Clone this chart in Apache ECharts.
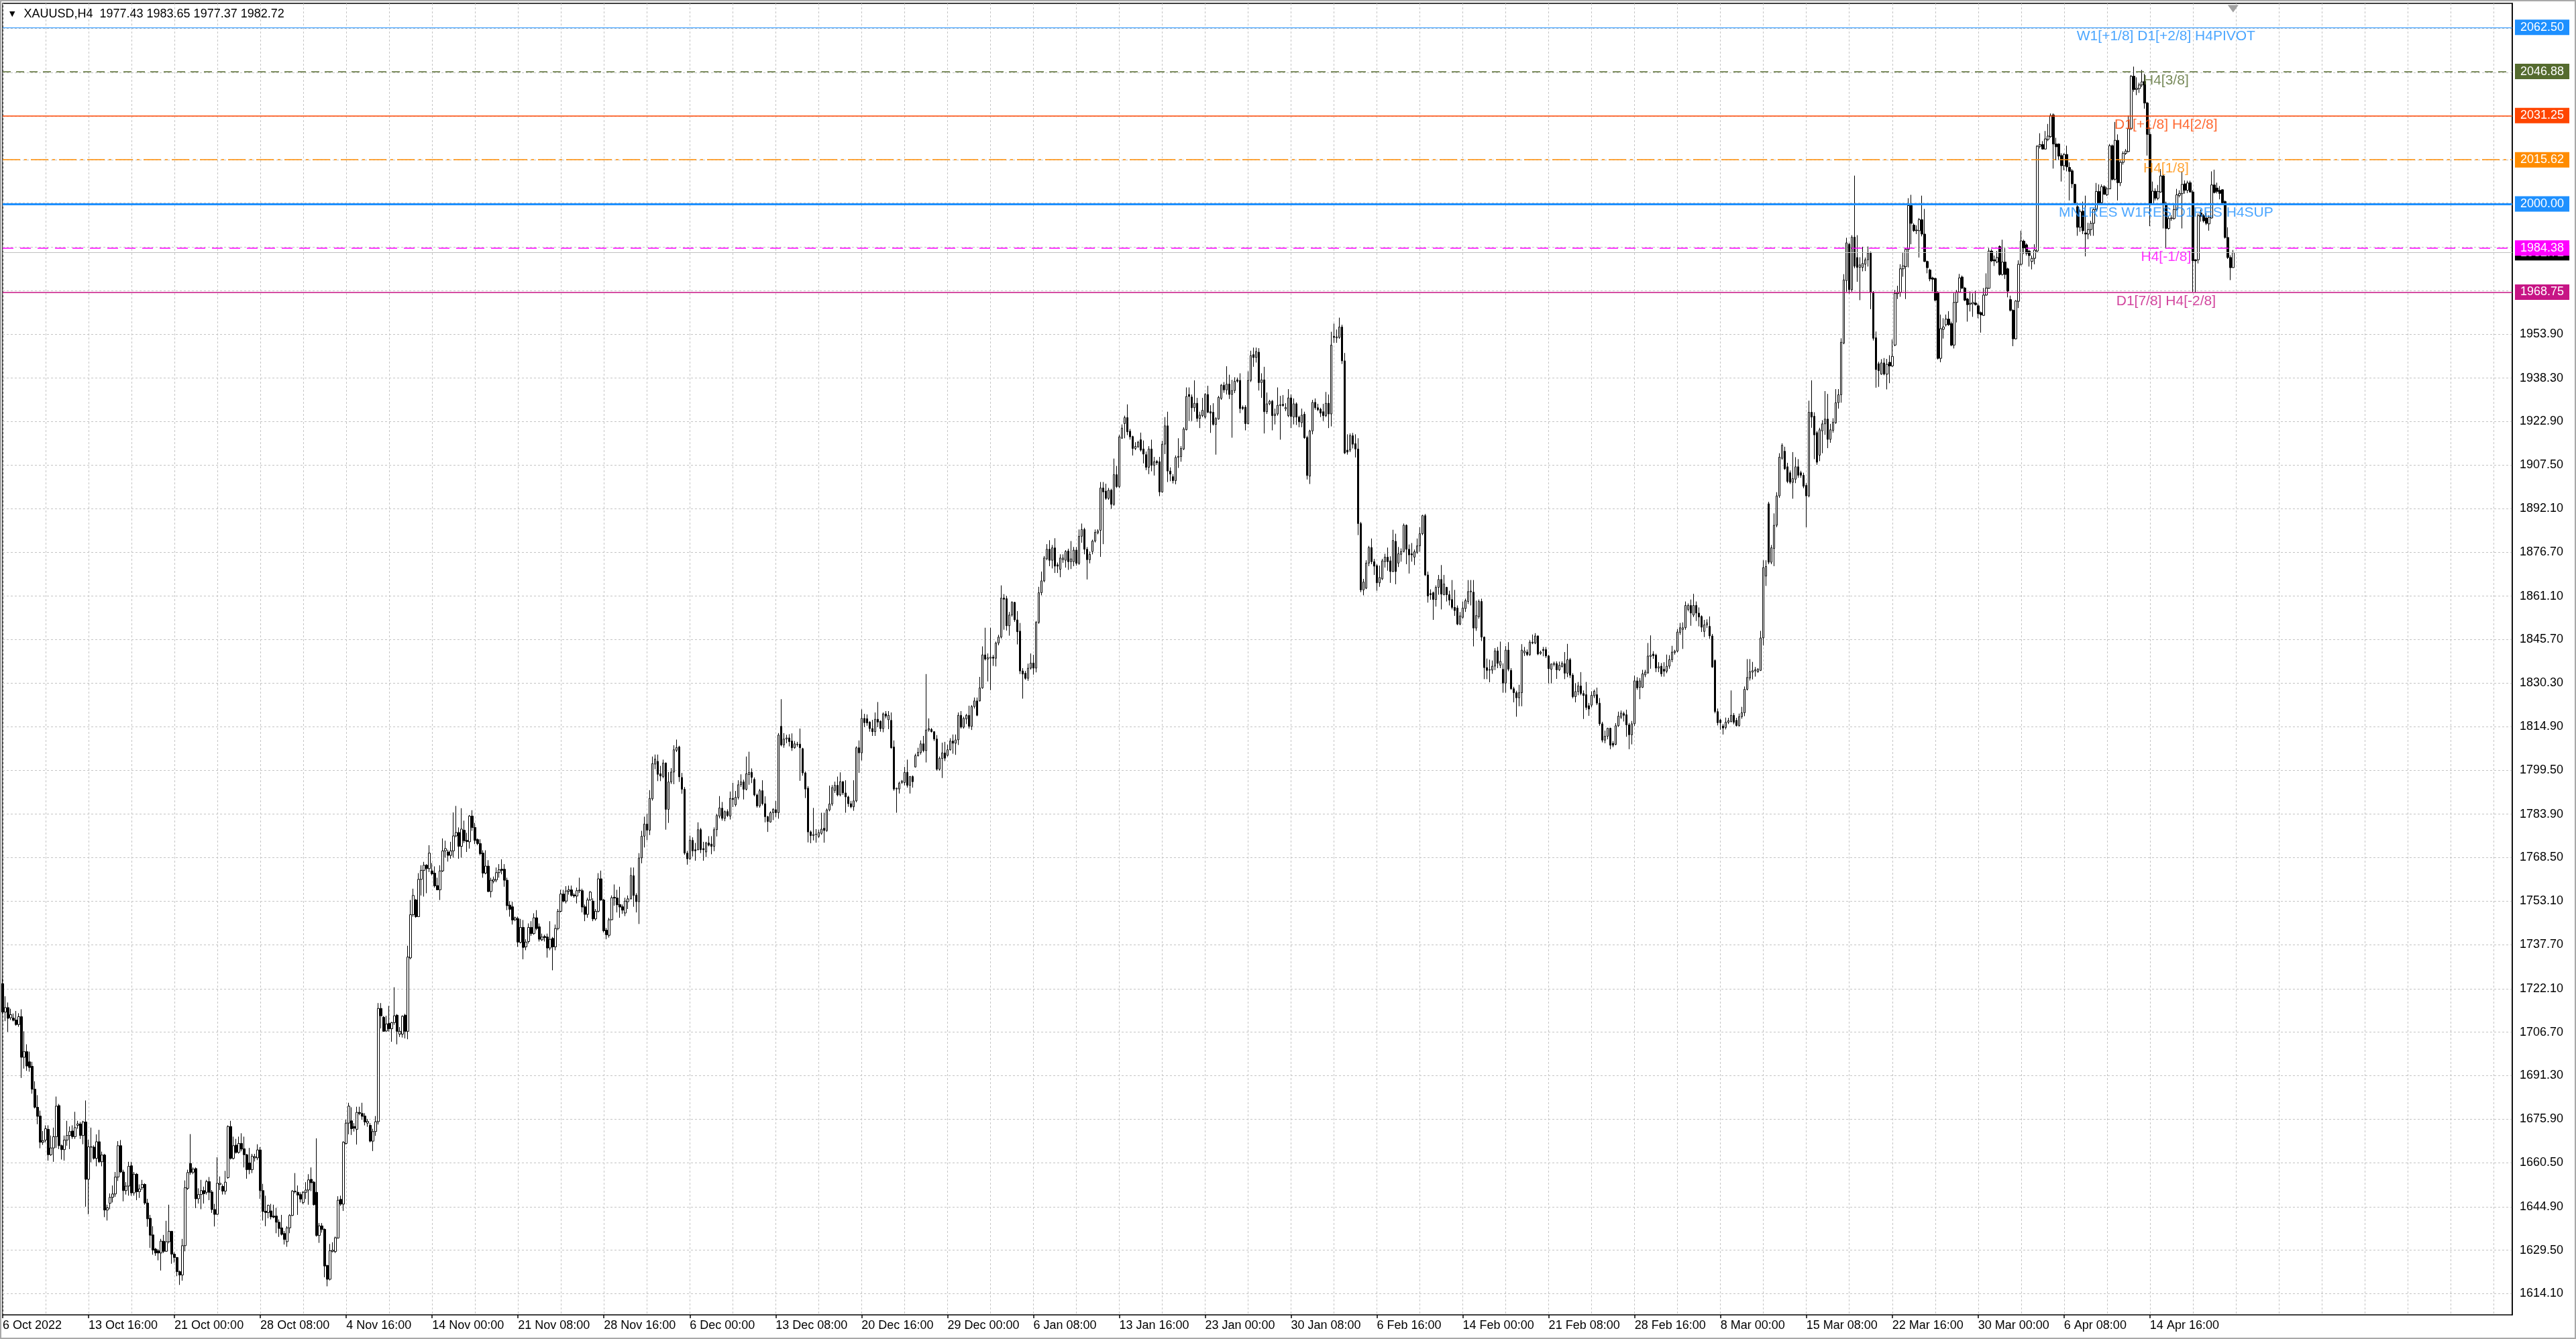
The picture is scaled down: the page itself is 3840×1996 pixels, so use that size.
<!DOCTYPE html>
<html><head><meta charset="utf-8">
<script src="https://cdn.jsdelivr.net/npm/echarts@6/dist/echarts.min.js"></script>
<style>html,body{margin:0;padding:0;background:#fff;}#c{width:3840px;height:1996px;}</style>
</head><body><div id="c"></div>
<script>
const symbolName = 'XAUUSD,H4';
const xTickLabels = ['6 Oct 2022','13 Oct 16:00','21 Oct 00:00','28 Oct 08:00','4 Nov 16:00','14 Nov 00:00','21 Nov 08:00','28 Nov 16:00','6 Dec 00:00','13 Dec 08:00','20 Dec 16:00','29 Dec 00:00','6 Jan 08:00','13 Jan 16:00','23 Jan 00:00','30 Jan 08:00','6 Feb 16:00','14 Feb 00:00','21 Feb 08:00','28 Feb 16:00','8 Mar 00:00','15 Mar 08:00','22 Mar 16:00','30 Mar 00:00','6 Apr 08:00','14 Apr 16:00'];
const yTicks = [1614.10,1629.50,1644.90,1660.50,1675.90,1691.30,1706.70,1722.10,1737.70,1753.10,1768.50,1783.90,1799.50,1814.90,1830.30,1845.70,1861.10,1876.70,1892.10,1907.50,1922.90,1938.30,1953.90,1969.30,1984.70,2000.30,2015.70,2031.10,2046.50,2062.10];
const levelValues = [2062.50,2046.88,2031.25,2015.62,2000.00,1984.38,1968.75];
const levelNames = ['W1[+1/8] D1[+2/8] H4PIVOT','H4[3/8]','D1[+1/8] H4[2/8]','H4[1/8]','MN1RES W1RES D1RES H4SUP','H4[-1/8]','D1[7/8] H4[-2/8]'];
const bidPrice = 1982.72;
// OHLC rows: [open, high, low, close]
const ohlc = [
[1723.9,1725.6,1713.0,1713.8],[1713.8,1719.4,1710.6,1715.4],[1715.4,1717.2,1706.8,1711.6],[1711.8,1715.0,1711.0,1712.9],[1711.7,1713.3,1710.5,1710.9],
[1711.0,1714.2,1709.0,1709.4],[1709.4,1713.4,1708.6,1712.2],[1712.2,1714.8,1690.5,1697.8],[1697.8,1707.0,1693.8,1699.8],[1699.8,1702.4,1693.0,1694.7],
[1696.2,1699.8,1692.7,1694.2],[1694.6,1696.2,1684.9,1686.5],[1686.5,1689.3,1679.7,1680.1],[1680.1,1684.4,1674.1,1676.9],[1677.0,1678.9,1665.6,1667.7],
[1667.7,1671.7,1666.8,1668.3],[1668.5,1673.7,1667.7,1672.5],[1672.3,1673.7,1661.2,1663.3],[1663.3,1670.1,1662.9,1665.7],[1665.7,1672.9,1660.8,1669.7],
[1669.7,1683.9,1665.7,1680.5],[1680.7,1681.3,1665.3,1666.5],[1666.5,1666.9,1661.6,1665.1],[1665.1,1670.1,1661.2,1668.5],[1668.5,1675.3,1666.5,1670.1],
[1670.1,1673.3,1665.3,1671.5],[1671.7,1673.7,1668.9,1669.7],[1669.7,1678.5,1668.9,1672.9],[1673.7,1675.3,1672.5,1674.2],[1674.2,1674.9,1668.9,1670.1],
[1670.1,1675.3,1667.0,1674.9],[1674.9,1682.5,1644.9,1654.6],[1654.6,1668.6,1642.2,1666.1],[1666.0,1672.9,1660.6,1666.1],[1666.0,1666.6,1661.6,1662.0],
[1662.0,1670.5,1659.2,1667.9],[1667.9,1672.1,1660.4,1660.8],[1660.8,1664.4,1659.2,1663.2],[1663.2,1663.6,1641.2,1643.7],[1643.7,1645.6,1640.0,1644.5],
[1646.1,1649.6,1644.0,1648.2],[1648.2,1652.4,1646.4,1649.4],[1649.4,1657.2,1648.4,1655.4],[1655.4,1668.1,1654.0,1666.5],[1666.5,1668.5,1656.8,1657.2],
[1657.2,1658.0,1646.8,1650.6],[1650.6,1653.6,1649.2,1652.2],[1652.2,1660.8,1648.8,1659.2],[1659.4,1660.8,1648.8,1649.8],[1649.8,1657.2,1648.8,1656.4],
[1656.4,1656.8,1647.2,1650.2],[1650.2,1652.8,1648.0,1651.2],[1651.6,1654.4,1650.8,1652.8],[1652.8,1653.2,1645.6,1646.2],[1646.2,1647.7,1637.8,1640.6],
[1640.8,1642.0,1630.3,1634.8],[1634.9,1638.0,1627.9,1629.5],[1629.9,1630.3,1627.5,1628.5],[1629.3,1629.9,1625.9,1628.5],[1628.5,1633.5,1622.3,1632.7],
[1632.7,1634.9,1628.5,1629.1],[1629.1,1639.9,1628.9,1632.5],[1632.5,1645.6,1631.9,1636.2],[1636.2,1636.3,1624.7,1628.1],[1628.1,1628.7,1625.1,1626.9],
[1626.9,1627.1,1620.3,1621.9],[1621.9,1622.3,1617.2,1620.7],[1620.7,1633.5,1618.7,1631.1],[1631.1,1654.2,1629.1,1651.6],[1651.4,1658.0,1650.8,1657.0],
[1660.2,1670.6,1656.2,1657.0],[1657.1,1658.8,1656.4,1658.2],[1658.4,1658.8,1644.4,1647.7],[1647.7,1651.4,1646.0,1649.2],[1649.2,1654.4,1644.0,1650.6],
[1650.6,1652.0,1646.0,1649.5],[1650.0,1654.4,1649.2,1653.8],[1653.8,1655.4,1647.2,1650.0],[1650.1,1650.8,1642.7,1643.9],[1643.9,1645.9,1637.9,1642.2],
[1642.2,1662.4,1642.0,1653.2],[1652.8,1655.6,1650.8,1653.2],[1652.1,1652.8,1649.2,1650.4],[1650.4,1657.6,1649.2,1653.6],[1655.2,1673.7,1654.8,1673.3],
[1673.3,1675.3,1661.6,1662.0],[1662.0,1669.7,1661.6,1666.5],[1666.7,1668.9,1663.7,1664.1],[1664.1,1669.7,1663.7,1667.3],[1667.3,1670.9,1664.5,1665.3],
[1665.4,1669.7,1658.8,1663.3],[1663.3,1663.6,1654.8,1658.0],[1660.4,1665.7,1656.4,1658.0],[1658.0,1663.6,1656.8,1662.8],[1662.2,1663.6,1660.9,1662.6],
[1662.2,1667.0,1661.4,1665.0],[1665.0,1666.0,1647.7,1650.6],[1650.6,1653.0,1640.0,1643.2],[1643.3,1648.8,1638.0,1642.8],[1642.8,1645.6,1640.8,1645.4],
[1643.4,1645.9,1640.4,1641.3],[1641.6,1645.6,1640.8,1641.2],[1641.6,1644.5,1635.5,1639.4],[1639.4,1640.4,1634.2,1637.2],[1637.4,1642.0,1634.7,1635.1],
[1635.4,1636.3,1631.5,1633.3],[1632.5,1638.0,1630.7,1637.4],[1637.4,1642.2,1635.5,1641.8],[1641.8,1650.8,1641.6,1650.4],[1650.2,1656.8,1649.6,1650.4],
[1650.0,1652.4,1642.0,1649.0],[1649.2,1650.0,1646.4,1647.6],[1646.4,1650.4,1645.8,1650.0],[1650.0,1653.6,1647.6,1650.8],[1650.8,1656.4,1645.6,1654.4],
[1654.6,1658.8,1650.4,1653.4],[1653.6,1654.0,1645.3,1645.6],[1650.0,1669.1,1634.3,1634.7],[1634.7,1639.1,1632.1,1638.1],[1638.1,1639.1,1635.7,1636.8],
[1636.9,1637.2,1619.9,1623.9],[1624.1,1624.3,1616.7,1619.2],[1619.2,1631.7,1618.8,1629.3],[1629.1,1632.3,1628.7,1629.5],[1629.0,1634.3,1628.5,1633.9],
[1633.8,1648.6,1633.6,1647.2],[1647.5,1648.8,1645.2,1645.8],[1645.8,1668.1,1643.4,1667.7],[1667.3,1675.7,1666.9,1674.5],[1674.5,1681.7,1670.5,1680.5],
[1675.3,1680.1,1670.3,1672.5],[1673.3,1674.5,1671.5,1672.7],[1672.3,1680.3,1666.9,1678.3],[1678.3,1680.3,1677.3,1677.9],[1677.9,1681.7,1675.7,1676.9],
[1677.0,1678.0,1673.7,1674.9],[1674.5,1676.0,1673.2,1675.1],[1673.7,1674.5,1667.7,1668.1],[1668.1,1672.5,1664.6,1671.5],[1671.5,1677.0,1670.0,1675.0],
// 140
[1675.0,1717.0,1674.0,1715.1],[1715.1,1717.0,1708.0,1712.5],[1712.0,1712.4,1706.9,1707.0],[1707.1,1712.5,1706.9,1709.6],[1709.8,1716.0,1706.9,1707.9],
[1707.9,1710.3,1703.3,1710.1],[1710.1,1722.6,1709.3,1712.5],[1712.7,1713.1,1702.4,1707.0],[1706.0,1708.5,1705.0,1707.0],[1706.0,1712.7,1704.8,1712.3],
[1712.7,1713.2,1704.5,1707.0],[1707.0,1737.3,1704.2,1733.3],[1733.0,1753.5,1732.5,1748.3],[1748.3,1757.5,1747.6,1755.1],[1753.5,1753.9,1747.2,1747.6],
[1747.6,1763.0,1747.5,1760.8],[1760.8,1765.8,1755.1,1764.0],[1764.0,1767.0,1754.7,1765.8],[1765.8,1766.2,1755.9,1764.6],[1764.6,1772.9,1763.4,1770.1],
[1763.8,1766.6,1762.2,1762.8],[1763.0,1765.4,1757.9,1758.5],[1758.6,1761.4,1757.1,1757.1],[1757.1,1765.8,1753.5,1763.8],[1763.8,1775.3,1763.4,1770.9],
[1770.9,1774.5,1768.5,1771.7],[1770.5,1771.3,1767.1,1769.3],[1769.3,1774.1,1768.1,1770.9],[1770.9,1784.5,1768.5,1776.2],[1776.2,1786.8,1775.7,1777.4],
[1777.4,1779.2,1768.1,1772.5],[1772.5,1786.0,1768.5,1778.6],[1778.2,1781.6,1773.7,1774.5],[1774.6,1777.3,1770.5,1774.2],[1774.1,1783.6,1771.7,1783.2],
[1783.2,1785.3,1778.0,1779.2],[1779.2,1780.8,1773.3,1774.6],[1774.9,1775.3,1772.9,1773.5],[1773.5,1775.0,1769.3,1769.9],[1770.1,1771.1,1761.4,1763.0],
[1763.0,1771.1,1762.6,1765.5],[1765.5,1767.6,1756.3,1756.5],[1756.5,1761.4,1754.4,1760.5],[1760.2,1761.8,1759.4,1760.8],[1760.6,1765.0,1759.8,1763.2],
[1763.2,1766.2,1761.4,1764.2],[1764.4,1767.9,1762.6,1764.0],[1764.4,1766.2,1758.2,1760.5],[1760.5,1761.4,1749.9,1751.5],[1751.7,1753.1,1747.6,1750.2],
[1751.1,1752.9,1744.8,1746.4],[1746.5,1747.6,1746.0,1747.2],[1746.9,1747.6,1736.9,1738.6],[1738.5,1746.8,1738.1,1743.8],[1743.8,1746.4,1732.5,1736.7],
[1736.9,1739.6,1735.7,1738.6],[1738.8,1745.2,1738.1,1743.8],[1743.8,1746.0,1740.8,1741.6],[1741.6,1748.8,1741.2,1747.2],[1747.2,1749.9,1742.8,1743.4],
// 200
[1744.0,1745.2,1738.8,1739.6],[1739.4,1741.6,1739.0,1740.4],[1740.6,1741.2,1738.8,1740.2],[1740.4,1741.6,1733.1,1736.5],[1736.5,1746.0,1735.7,1739.6],
[1739.9,1740.4,1728.6,1736.9],[1736.9,1744.8,1735.7,1743.4],[1743.4,1750.3,1742.8,1749.5],[1749.5,1757.1,1749.1,1755.6],[1755.6,1757.1,1752.7,1753.1],
[1753.1,1758.4,1752.3,1756.7],[1756.6,1758.6,1755.4,1757.1],[1757.1,1758.6,1754.7,1755.1],[1755.3,1755.9,1754.3,1754.9],[1754.9,1757.9,1752.3,1756.8],
[1756.8,1761.4,1756.0,1757.0],[1756.8,1757.5,1749.1,1751.0],[1751.1,1751.9,1746.0,1748.4],[1748.4,1754.3,1747.2,1753.5],[1753.5,1756.7,1753.3,1756.3],
[1753.1,1754.1,1746.0,1746.8],[1746.8,1750.3,1746.2,1749.5],[1749.5,1763.0,1749.1,1761.0],[1761.0,1763.9,1753.1,1753.5],[1753.5,1753.9,1742.0,1742.6],
[1742.8,1743.6,1739.6,1741.2],[1741.0,1747.2,1740.2,1746.5],[1746.5,1755.1,1746.3,1754.3],[1754.5,1759.0,1751.5,1754.2],[1754.2,1757.1,1749.1,1751.8],
[1751.9,1758.2,1747.2,1751.0],[1751.1,1751.9,1748.6,1749.9],[1748.9,1754.3,1747.8,1753.1],[1752.9,1755.1,1750.3,1753.9],[1753.9,1765.0,1753.7,1762.2],
[1762.1,1765.0,1751.1,1755.1],[1755.2,1755.9,1749.1,1752.9],[1752.9,1770.1,1745.0,1768.4],[1768.4,1778.0,1766.5,1776.1],[1776.1,1783.0,1772.1,1780.4],
[1780.4,1784.0,1774.7,1778.2],[1778.2,1792.4,1776.5,1789.5],[1789.3,1804.3,1788.7,1801.8],[1801.6,1805.0,1799.8,1803.4],[1802.6,1805.0,1795.6,1798.0],
[1798.2,1801.0,1795.6,1797.4],[1797.2,1803.2,1796.6,1802.0],[1802.0,1802.2,1778.4,1785.6],[1785.6,1798.8,1780.8,1795.3],[1795.3,1800.2,1794.6,1798.8],
[1798.8,1808.3,1794.5,1806.7],[1806.5,1810.3,1805.9,1807.5],[1807.7,1808.1,1795.3,1797.1],[1796.9,1798.5,1791.1,1792.7],[1792.7,1793.5,1769.5,1770.1],
[1770.1,1770.9,1766.0,1768.1],[1768.1,1776.3,1767.7,1774.7],[1774.6,1775.7,1768.9,1770.9],[1771.3,1773.7,1767.4,1770.9],[1771.3,1781.0,1771.1,1778.4],
// 260
[1778.4,1779.0,1770.1,1771.3],[1771.7,1774.1,1767.4,1771.3],[1770.5,1774.1,1768.7,1773.7],[1773.7,1776.1,1772.5,1772.9],[1773.3,1776.1,1769.7,1772.5],
[1772.5,1779.2,1770.8,1778.4],[1778.4,1784.0,1776.0,1783.4],[1783.2,1790.3,1782.4,1786.1],[1786.0,1788.2,1781.6,1782.4],[1782.4,1785.2,1781.4,1784.8],
[1784.8,1785.6,1782.9,1783.4],[1783.2,1791.9,1782.0,1789.5],[1789.5,1795.0,1786.4,1789.1],[1787.2,1792.1,1786.6,1789.9],[1789.8,1795.9,1789.1,1794.3],
[1794.3,1798.0,1793.5,1795.3],[1795.3,1796.1,1789.1,1792.7],[1792.7,1804.3,1792.3,1798.2],[1797.9,1806.0,1794.3,1798.7],[1798.7,1800.1,1794.9,1796.9],
[1796.2,1796.9,1790.2,1790.7],[1790.7,1791.2,1786.2,1786.8],[1786.8,1792.8,1786.2,1792.2],[1792.2,1795.9,1787.0,1787.6],[1787.6,1790.2,1781.0,1783.0],
[1783.0,1783.3,1777.6,1781.3],[1781.1,1784.9,1780.9,1784.4],[1784.4,1786.0,1781.8,1785.6],[1785.5,1788.6,1782.9,1784.4],[1784.4,1812.6,1782.3,1811.9],
[1815.0,1824.6,1807.9,1808.4],[1808.4,1812.6,1807.4,1810.5],[1810.5,1812.0,1809.0,1810.9],[1810.9,1812.2,1807.9,1809.6],[1809.8,1812.5,1806.3,1807.4],
[1807.4,1809.8,1807.1,1808.8],[1808.5,1809.5,1807.8,1808.7],[1808.7,1814.2,1795.7,1807.4],[1807.1,1807.4,1797.5,1798.5],[1798.5,1799.0,1789.6,1792.8],
[1793.1,1793.8,1773.9,1777.6],[1777.6,1778.1,1773.6,1776.3],[1776.3,1786.1,1774.6,1776.7],[1776.7,1778.6,1773.8,1776.8],[1776.0,1778.4,1775.5,1777.4],
[1777.1,1784.4,1776.6,1778.6],[1778.9,1784.4,1773.8,1778.1],[1778.1,1785.9,1777.6,1785.4],[1785.4,1794.0,1784.9,1787.5],[1787.5,1794.2,1786.8,1793.3],
[1792.3,1795.4,1791.4,1794.1],[1794.1,1797.2,1790.2,1790.7],[1790.7,1798.7,1790.2,1795.4],[1795.4,1795.6,1790.7,1791.4],[1791.4,1795.9,1784.4,1790.0],
[1790.0,1790.4,1786.5,1787.6],[1787.6,1788.6,1786.0,1786.5],[1786.5,1795.9,1785.1,1788.6],[1788.6,1807.9,1788.1,1807.4],[1807.4,1810.0,1798.5,1805.6],
// 320
[1805.6,1821.0,1802.9,1817.8],[1817.8,1819.4,1814.7,1816.3],[1817.7,1819.2,1815.2,1816.2],[1816.5,1816.8,1813.1,1814.2],[1814.2,1817.3,1811.6,1813.1],
[1813.1,1819.9,1811.6,1817.5],[1817.5,1823.6,1814.7,1816.5],[1816.8,1817.1,1813.1,1814.2],[1814.2,1819.9,1812.9,1819.4],[1819.4,1820.4,1817.8,1818.6],
[1817.3,1820.4,1814.0,1818.9],[1817.1,1819.9,1807.1,1807.4],[1807.7,1810.0,1792.2,1792.8],[1792.8,1793.3,1784.4,1793.1],[1792.8,1795.4,1791.2,1794.9],
[1795.1,1796.0,1794.6,1795.6],[1795.1,1800.6,1794.1,1798.7],[1798.7,1803.2,1793.3,1794.1],[1794.1,1797.4,1791.2,1797.2],[1797.2,1797.6,1793.3,1795.4],
[1800.6,1805.3,1800.4,1804.6],[1804.6,1807.4,1804.3,1805.8],[1805.7,1810.0,1805.0,1808.8],[1808.8,1811.6,1805.8,1806.4],[1806.4,1833.5,1802.2,1813.7],
[1813.7,1817.8,1813.1,1814.2],[1813.9,1814.4,1812.8,1813.1],[1813.1,1813.3,1809.8,1810.5],[1810.5,1811.9,1799.3,1799.8],[1799.8,1804.3,1799.3,1803.7],
[1803.6,1809.2,1796.7,1805.6],[1805.6,1809.5,1802.7,1803.7],[1804.7,1808.5,1804.3,1806.7],[1806.7,1810.8,1806.4,1809.8],[1809.8,1812.1,1805.3,1809.0],
[1809.0,1812.1,1804.9,1810.2],[1810.2,1819.9,1808.4,1818.9],[1818.9,1820.4,1814.2,1814.7],[1814.7,1818.4,1814.2,1817.8],[1817.6,1819.4,1815.8,1818.9],
[1818.9,1822.3,1814.2,1815.0],[1815.0,1822.5,1813.7,1822.0],[1822.0,1825.2,1821.3,1824.0],[1824.0,1825.2,1818.6,1818.9],[1824.0,1832.5,1823.8,1828.6],
[1828.6,1843.3,1828.3,1840.3],[1840.3,1849.9,1838.3,1838.8],[1838.8,1840.8,1830.9,1839.3],[1839.1,1849.9,1827.8,1839.5],[1839.5,1840.3,1836.4,1839.1],
[1839.1,1845.0,1836.2,1844.5],[1844.5,1847.4,1843.7,1846.6],[1846.6,1864.9,1846.1,1860.4],[1860.4,1861.8,1849.2,1860.0],[1860.2,1861.2,1848.9,1850.6],
[1850.6,1855.5,1847.1,1854.4],[1854.4,1859.3,1853.8,1858.9],[1858.9,1859.1,1852.0,1852.7],[1852.7,1855.8,1844.0,1848.5],[1848.7,1851.6,1833.5,1834.6],
// 380
[1834.6,1835.6,1824.8,1833.5],[1833.8,1834.6,1831.5,1832.0],[1832.0,1837.2,1831.1,1835.6],[1835.6,1840.8,1835.1,1837.4],[1837.4,1840.3,1833.3,1835.6],
[1835.6,1852.3,1834.1,1851.8],[1851.8,1864.4,1851.3,1862.3],[1862.3,1869.8,1861.4,1866.5],[1866.5,1875.3,1866.0,1874.6],[1874.3,1879.5,1873.8,1877.7],
[1877.7,1880.9,1871.7,1873.8],[1873.8,1879.2,1870.9,1878.2],[1878.2,1881.6,1869.3,1871.7],[1872.2,1873.0,1869.3,1871.7],[1870.6,1875.9,1867.8,1874.6],
[1874.0,1875.9,1872.9,1874.6],[1873.8,1877.4,1871.2,1876.9],[1877.1,1877.9,1870.4,1873.3],[1873.3,1880.6,1870.7,1874.3],[1873.3,1878.5,1871.7,1877.4],
[1877.4,1878.5,1871.9,1872.7],[1872.7,1884.7,1872.2,1882.3],[1882.3,1886.8,1880.0,1884.7],[1884.7,1885.3,1875.9,1877.7],[1877.7,1878.5,1867.0,1874.0],
[1874.0,1876.9,1872.7,1875.9],[1876.9,1881.1,1875.9,1880.6],[1880.6,1884.7,1880.1,1883.7],[1883.5,1884.8,1883.0,1884.2],[1884.4,1901.5,1875.0,1899.4],
[1899.4,1901.5,1879.5,1898.0],[1898.3,1900.9,1895.2,1895.7],[1895.7,1899.4,1895.2,1898.6],[1898.6,1899.1,1892.0,1893.6],[1893.6,1909.8,1893.1,1904.1],
[1904.1,1907.2,1899.4,1899.9],[1899.9,1918.2,1899.4,1917.5],[1917.0,1921.9,1916.8,1920.6],[1922.2,1925.0,1917.0,1924.3],[1924.3,1929.0,1918.1,1919.3],
[1919.5,1920.3,1916.5,1917.5],[1917.6,1917.9,1910.9,1913.4],[1913.4,1915.6,1912.8,1914.1],[1913.9,1916.1,1913.7,1915.6],[1916.5,1919.0,1912.3,1912.8],
[1913.2,1916.2,1908.1,1911.4],[1911.2,1912.3,1905.7,1906.7],[1906.7,1914.2,1904.3,1913.2],[1913.2,1916.5,1905.3,1907.4],[1907.4,1910.4,1903.8,1908.7],
[1908.8,1909.3,1907.5,1908.3],[1908.7,1910.4,1896.5,1898.0],[1898.0,1916.1,1897.7,1914.9],[1914.9,1924.5,1911.4,1921.4],[1921.4,1926.4,1901.5,1905.4],
[1905.4,1906.7,1901.8,1904.3],[1903.4,1904.3,1901.0,1902.0],[1902.0,1910.9,1900.7,1910.2],[1910.2,1917.0,1906.5,1910.6],[1910.5,1914.2,1908.7,1913.4],
// 440
[1913.2,1920.9,1912.8,1920.3],[1920.0,1935.0,1919.8,1931.8],[1932.5,1935.0,1923.1,1931.8],[1931.6,1932.5,1923.1,1927.8],[1927.8,1937.5,1926.4,1929.4],
[1929.4,1931.3,1922.8,1924.0],[1924.0,1926.4,1920.6,1925.2],[1925.0,1931.3,1924.5,1926.9],[1924.5,1933.0,1924.0,1932.5],[1932.5,1935.6,1925.9,1926.2],
[1926.4,1928.7,1918.9,1925.9],[1926.2,1929.4,1921.5,1921.9],[1921.9,1924.5,1911.2,1924.0],[1923.8,1932.0,1923.6,1931.5],[1931.1,1936.2,1930.6,1935.8],
[1935.8,1936.9,1933.1,1934.1],[1934.1,1942.5,1932.5,1936.2],[1936.2,1939.5,1930.9,1932.5],[1932.5,1937.7,1917.2,1933.9],[1933.9,1938.6,1933.0,1937.2],
[1937.7,1938.5,1936.7,1937.2],[1937.5,1940.0,1925.9,1927.5],[1928.0,1928.6,1927.0,1927.5],[1928.0,1928.7,1919.8,1922.2],[1922.2,1940.7,1921.9,1937.5],
[1937.5,1948.0,1936.9,1946.3],[1946.6,1949.1,1942.3,1945.6],[1945.6,1949.1,1943.8,1947.7],[1947.5,1948.9,1933.9,1936.7],[1936.7,1940.0,1931.3,1937.7],
[1937.7,1942.3,1918.7,1926.4],[1926.4,1933.2,1925.6,1929.2],[1929.2,1930.6,1928.7,1930.1],[1930.1,1930.6,1919.8,1925.0],[1925.0,1927.5,1921.9,1925.6],
[1925.6,1935.0,1925.0,1928.7],[1928.6,1932.0,1916.5,1928.9],[1929.0,1932.3,1928.2,1928.6],[1927.4,1929.4,1926.6,1927.9],[1925.0,1934.4,1924.5,1931.3],
[1931.3,1932.5,1920.6,1924.7],[1924.5,1931.1,1921.9,1929.2],[1929.2,1929.7,1921.7,1924.5],[1924.5,1925.0,1920.9,1922.8],[1922.5,1927.5,1920.9,1925.2],
[1925.5,1926.4,1916.8,1917.2],[1917.3,1917.9,1902.4,1903.8],[1903.6,1920.0,1900.8,1919.6],[1919.6,1930.6,1918.4,1929.7],[1929.7,1931.1,1927.1,1927.8],
[1927.8,1929.2,1926.6,1927.1],[1927.3,1927.8,1924.5,1925.9],[1926.4,1929.2,1923.1,1925.0],[1925.0,1933.4,1924.5,1929.4],[1929.4,1932.5,1920.6,1925.6],
[1925.6,1954.7,1921.2,1950.0],[1953.1,1957.6,1950.8,1952.7],[1952.5,1955.5,1950.8,1952.9],[1952.7,1959.7,1952.2,1956.4],[1956.4,1957.2,1943.3,1944.4],
// 500
[1944.4,1947.2,1911.4,1911.8],[1912.8,1918.4,1911.2,1912.1],[1912.8,1918.7,1912.1,1917.9],[1917.9,1918.9,1913.4,1914.9],[1915.1,1918.4,1910.2,1913.2],
[1913.2,1917.0,1882.7,1886.8],[1886.8,1887.4,1862.5,1863.3],[1863.3,1867.2,1861.4,1866.1],[1863.9,1873.8,1863.6,1872.8],[1872.8,1878.9,1871.7,1878.3],
[1878.3,1881.5,1872.4,1873.3],[1873.3,1874.3,1868.6,1871.7],[1871.9,1872.4,1863.0,1865.8],[1865.8,1871.9,1864.4,1867.7],[1867.2,1874.3,1866.8,1873.6],
[1873.3,1876.1,1871.2,1874.9],[1874.9,1878.3,1870.1,1873.3],[1873.6,1875.2,1865.8,1869.8],[1869.8,1884.6,1869.6,1880.8],[1880.5,1883.2,1865.3,1869.8],
[1872.8,1878.5,1871.4,1876.1],[1875.9,1878.0,1873.3,1876.9],[1876.9,1886.8,1876.6,1886.2],[1886.2,1886.5,1872.4,1877.7],[1877.7,1879.4,1869.1,1875.7],
[1876.1,1879.9,1873.3,1875.7],[1874.9,1877.6,1872.1,1876.8],[1876.6,1881.5,1876.1,1878.9],[1878.9,1885.5,1876.8,1883.2],[1883.2,1889.9,1882.7,1889.6],
[1889.6,1890.2,1868.2,1868.6],[1868.6,1869.8,1858.8,1861.1],[1862.0,1863.5,1859.8,1861.6],[1862.3,1862.7,1852.7,1859.9],[1859.9,1864.9,1857.4,1864.2],
[1864.2,1868.6,1861.6,1867.0],[1867.0,1872.1,1856.4,1861.8],[1861.6,1868.6,1861.4,1865.4],[1864.2,1864.4,1859.2,1861.6],[1861.6,1863.0,1857.8,1859.7],
[1859.9,1866.8,1856.4,1857.1],[1857.1,1863.3,1854.1,1856.0],[1856.9,1857.8,1850.8,1851.2],[1851.2,1855.5,1850.8,1854.1],[1853.6,1859.2,1853.1,1856.9],
[1856.7,1860.2,1855.5,1859.5],[1859.2,1866.8,1858.3,1862.7],[1862.6,1866.8,1857.8,1862.9],[1862.5,1866.8,1843.3,1849.8],[1849.8,1859.5,1848.8,1854.2],
[1853.8,1859.9,1853.1,1859.2],[1859.2,1860.2,1845.2,1846.6],[1846.6,1846.8,1831.7,1835.8],[1835.8,1839.0,1831.7,1834.8],[1834.9,1838.6,1830.6,1835.1],
[1834.9,1838.3,1833.6,1836.3],[1836.3,1842.7,1834.9,1841.7],[1841.7,1843.1,1835.6,1837.3],[1836.6,1845.0,1835.6,1838.0],[1835.2,1837.3,1826.9,1830.3],
// 560
[1830.3,1843.4,1826.9,1842.0],[1842.0,1844.8,1834.5,1835.2],[1834.8,1835.6,1827.9,1828.3],[1828.3,1829.0,1823.5,1826.9],[1826.9,1827.6,1818.4,1825.1],
[1825.1,1829.7,1822.1,1826.9],[1826.9,1844.1,1822.1,1842.0],[1841.0,1843.1,1839.9,1841.7],[1841.3,1842.2,1839.9,1840.4],[1840.4,1845.5,1839.9,1844.8],
[1844.5,1847.5,1844.1,1844.8],[1844.5,1848.0,1844.1,1847.0],[1847.0,1847.2,1840.2,1840.6],[1840.8,1841.8,1840.3,1841.3],[1842.2,1843.1,1839.8,1841.9],
[1842.2,1843.1,1839.2,1839.9],[1839.9,1840.3,1830.2,1835.4],[1835.2,1837.2,1830.2,1837.1],[1836.9,1837.9,1836.2,1837.3],[1837.2,1838.0,1831.8,1835.0],
[1835.0,1837.9,1834.6,1836.6],[1836.2,1838.0,1835.8,1837.3],[1837.2,1841.3,1831.7,1833.8],[1833.8,1844.2,1832.4,1838.6],[1838.6,1839.2,1832.1,1833.1],
[1833.1,1833.8,1824.9,1825.5],[1825.5,1830.3,1823.5,1827.3],[1827.3,1830.7,1826.0,1829.3],[1829.3,1834.2,1826.0,1826.6],[1826.6,1827.7,1817.6,1825.9],
[1826.2,1830.7,1820.8,1821.7],[1822.3,1823.3,1818.7,1821.1],[1822.5,1827.4,1821.7,1826.0],[1825.8,1828.0,1825.0,1827.4],[1826.2,1828.7,1822.5,1823.2],
[1823.2,1825.0,1815.2,1815.9],[1815.9,1816.6,1809.3,1810.1],[1810.1,1813.5,1809.0,1811.5],[1811.5,1814.5,1810.4,1814.3],[1814.3,1814.5,1806.9,1808.3],
[1809.0,1809.8,1807.6,1808.3],[1808.6,1816.1,1808.3,1815.2],[1815.2,1820.2,1814.8,1818.6],[1818.2,1820.6,1817.6,1819.7],[1819.5,1820.2,1816.7,1818.9],
[1819.1,1820.9,1811.3,1815.5],[1815.5,1816.2,1806.9,1812.0],[1812.0,1816.9,1808.6,1815.9],[1815.9,1833.0,1815.1,1831.1],[1831.1,1832.4,1827.9,1828.6],
[1828.8,1832.1,1824.6,1831.1],[1828.8,1835.0,1828.6,1833.6],[1833.2,1835.0,1832.4,1834.2],[1833.9,1844.5,1833.6,1839.9],[1839.7,1847.2,1835.4,1840.2],
[1840.6,1841.6,1838.9,1840.0],[1840.2,1840.7,1834.2,1835.6],[1835.6,1837.7,1834.2,1836.1],[1836.3,1837.4,1832.6,1833.6],[1835.2,1837.7,1832.6,1834.5],
// 620
[1834.5,1840.4,1833.8,1836.3],[1836.3,1840.2,1835.4,1838.6],[1838.6,1843.5,1837.7,1841.3],[1841.1,1842.1,1840.4,1841.6],[1841.6,1849.4,1841.2,1848.4],
[1848.2,1851.6,1847.4,1849.9],[1849.3,1851.8,1842.4,1849.9],[1849.9,1859.2,1849.2,1857.8],[1856.4,1858.5,1855.7,1857.8],[1857.8,1859.9,1850.6,1855.1],
[1854.4,1861.9,1853.7,1857.8],[1857.8,1859.2,1852.3,1855.1],[1855.1,1857.1,1850.4,1853.7],[1853.9,1854.3,1848.4,1850.1],[1848.6,1852.7,1846.6,1850.9],
[1850.9,1852.9,1849.8,1851.6],[1850.4,1853.9,1846.0,1847.0],[1847.0,1847.7,1835.7,1836.0],[1838.3,1838.7,1819.6,1820.2],[1820.2,1821.3,1815.3,1816.3],
[1817.2,1817.7,1813.8,1816.3],[1815.1,1815.8,1812.1,1814.4],[1814.6,1818.1,1813.9,1816.5],[1816.4,1818.0,1815.8,1817.0],[1816.7,1827.7,1816.4,1818.9],
[1818.9,1819.7,1815.7,1816.4],[1817.1,1818.0,1814.9,1815.3],[1815.3,1819.5,1814.9,1818.4],[1818.4,1821.9,1817.7,1819.8],[1819.8,1829.1,1818.6,1828.1],
[1828.1,1838.8,1827.7,1832.3],[1832.1,1838.8,1831.2,1834.4],[1834.2,1837.8,1831.6,1834.7],[1834.6,1836.0,1832.6,1835.0],[1834.3,1835.6,1834.0,1835.2],
[1834.8,1848.8,1834.6,1846.3],[1846.3,1873.8,1843.6,1871.2],[1868.2,1873.8,1864.7,1871.6],[1893.8,1894.5,1872.4,1873.1],[1873.1,1879.2,1872.4,1878.2],
[1878.0,1890.4,1871.7,1886.2],[1886.2,1897.9,1885.5,1896.6],[1896.6,1911.7,1895.9,1910.3],[1909.9,1915.2,1909.4,1914.5],[1912.4,1914.0,1905.8,1906.2],
[1906.9,1908.3,1901.1,1901.7],[1904.8,1905.6,1900.8,1901.4],[1901.4,1912.1,1895.6,1902.7],[1902.5,1910.3,1901.1,1906.9],[1906.9,1909.6,1903.0,1903.9],
[1904.8,1905.5,1903.0,1903.9],[1903.9,1904.8,1899.3,1900.0],[1900.3,1901.1,1885.5,1896.6],[1896.6,1930.3,1896.1,1926.2],[1926.2,1937.5,1920.7,1924.5],
[1924.8,1926.2,1909.6,1918.2],[1919.0,1919.6,1907.6,1908.5],[1911.0,1920.7,1908.9,1920.0],[1919.6,1923.4,1911.7,1922.1],[1922.1,1933.7,1918.2,1923.8],
// 680
[1923.8,1932.7,1913.5,1916.6],[1916.6,1922.1,1915.4,1920.0],[1919.8,1924.1,1919.0,1922.7],[1922.5,1934.4,1922.1,1929.6],[1929.6,1934.4,1927.5,1932.4],
[1932.4,1952.4,1929.6,1951.0],[1950.7,1975.1,1950.3,1973.1],[1972.8,1988.0,1968.9,1986.2],[1985.7,1986.2,1968.2,1969.6],[1969.6,1988.9,1968.9,1988.2],
[1988.2,2010.0,1977.2,1977.9],[1981.0,1988.9,1972.4,1977.5],[1977.5,1981.1,1965.9,1978.4],[1977.5,1984.8,1976.1,1978.9],[1978.6,1981.0,1976.2,1980.2],
[1980.2,1984.9,1977.8,1982.6],[1982.8,1983.1,1962.7,1968.7],[1968.7,1969.1,1951.6,1952.4],[1952.6,1954.8,1934.9,1941.3],[1943.4,1944.1,1935.2,1940.9],
[1939.7,1945.0,1939.5,1943.7],[1943.7,1945.4,1939.3,1939.7],[1939.7,1945.1,1934.3,1943.2],[1943.9,1946.4,1936.5,1942.6],[1942.6,1952.0,1942.3,1946.0],
[1950.0,1969.5,1949.6,1968.3],[1968.2,1971.0,1966.3,1968.7],[1968.7,1978.6,1967.1,1977.0],[1977.0,1982.9,1974.2,1978.0],[1977.8,1984.4,1966.3,1983.9],
[1983.9,2002.0,1977.5,1999.4],[1999.4,2003.2,1985.7,1993.1],[1992.5,1993.1,1990.1,1990.5],[1990.5,1992.4,1989.3,1990.7],[1990.5,1995.0,1981.0,1994.4],
[1994.4,2002.9,1988.5,1989.3],[1989.3,1998.2,1979.4,1979.6],[1979.6,1979.9,1975.4,1977.4],[1976.6,1977.0,1972.6,1973.4],[1973.8,1974.2,1969.0,1973.3],
[1973.6,1973.8,1965.5,1965.9],[1968.5,1969.1,1944.9,1945.3],[1945.3,1960.8,1943.9,1955.8],[1955.6,1959.5,1952.3,1956.4],[1957.2,1960.8,1956.6,1959.2],
[1959.2,1962.0,1956.8,1957.2],[1957.6,1958.3,1949.6,1950.0],[1950.0,1968.5,1948.8,1965.1],[1965.1,1969.5,1958.0,1968.8],[1968.8,1975.2,1968.7,1973.8],
[1974.1,1974.6,1969.8,1970.2],[1970.2,1970.6,1965.6,1965.9],[1966.3,1966.7,1958.3,1964.3],[1964.5,1969.0,1961.9,1964.8],[1964.6,1968.3,1960.0,1965.1],
[1964.9,1969.2,1964.0,1964.3],[1963.9,1964.7,1959.5,1961.1],[1961.5,1961.9,1954.4,1960.7],[1960.5,1970.2,1960.3,1967.7],[1967.7,1975.4,1967.5,1970.2],
// 740
[1970.1,1984.4,1969.9,1983.3],[1983.3,1983.9,1979.4,1979.8],[1980.2,1981.7,1978.0,1979.8],[1979.4,1983.3,1979.0,1981.0],[1984.9,1985.3,1974.6,1975.0],
[1975.0,1987.3,1974.6,1979.4],[1979.4,1984.4,1973.4,1975.0],[1977.0,1977.4,1966.9,1969.1],[1966.1,1967.5,1961.9,1962.3],[1962.3,1962.7,1949.6,1952.2],
[1952.2,1965.9,1952.0,1965.6],[1965.5,1980.0,1963.1,1978.6],[1978.6,1990.5,1978.2,1986.9],[1986.8,1987.3,1982.2,1984.4],[1985.5,1986.0,1981.7,1982.5],
[1983.3,1983.7,1977.8,1981.7],[1979.6,1981.7,1976.8,1980.7],[1980.7,1985.7,1978.6,1983.6],[1983.3,2020.8,1982.9,2020.4],[2020.4,2025.0,2019.6,2021.0],
[2021.0,2022.2,2019.3,2019.4],[2019.4,2025.8,2019.3,2023.0],[2022.8,2028.3,2022.2,2024.0],[2023.8,2032.0,2023.4,2031.3],[2031.5,2032.0,2012.5,2021.2],
[2021.2,2023.4,2015.5,2020.2],[2021.2,2021.4,2015.5,2016.9],[2017.1,2017.9,2007.9,2013.5],[2013.5,2017.9,2011.9,2017.5],[2017.5,2020.6,2011.5,2013.1],
[2012.9,2014.7,2001.2,2011.5],[2011.7,2012.3,2005.6,2007.1],[2006.9,2007.1,1999.6,2000.4],[1999.0,2000.4,1988.7,1991.7],[1991.7,1998.0,1990.1,1997.2],
[1997.4,2000.8,1989.3,1990.5],[1989.7,2002.9,1981.4,1989.3],[1989.3,1993.3,1987.5,1990.9],[1990.9,1994.0,1988.7,1993.1],[1993.1,1998.4,1988.7,1998.0],
[1998.0,2007.4,1997.6,2004.4],[2004.4,2006.9,2000.0,2000.4],[2000.4,2006.9,2000.0,2006.1],[2006.1,2006.6,2003.2,2003.4],[2003.2,2006.0,2002.8,2005.3],
[2005.3,2021.2,2005.2,2020.6],[2020.6,2021.0,2008.3,2008.7],[2008.7,2029.0,2008.3,2022.5],[2022.5,2024.6,2001.2,2007.5],[2007.5,2015.5,2006.3,2014.7],
[2014.7,2018.6,2013.9,2017.9],[2017.9,2019.4,2017.3,2018.7],[2018.5,2031.3,2018.3,2026.6],[2026.6,2045.6,2026.2,2045.2],[2045.2,2048.6,2039.7,2040.5],
[2040.5,2044.8,2038.5,2040.9],[2040.8,2042.9,2039.3,2042.1],[2042.1,2047.4,2041.3,2043.2],[2043.4,2046.0,2033.7,2035.7],[2035.7,2036.1,2017.1,2024.6],
// 800
[2024.6,2027.0,1992.1,2000.0],[2000.0,2007.9,1999.6,2004.5],[2004.5,2005.5,2001.2,2002.0],[2002.0,2006.7,2001.3,2004.4],[2004.2,2012.3,2003.9,2009.9],
[2009.9,2010.3,1991.3,2000.2],[2000.2,2000.8,1984.1,1991.3],[1991.3,1995.6,1990.9,1994.8],[1994.8,1996.0,1994.0,1995.0],[1994.8,1999.6,1994.4,1998.0],
[1998.0,2005.3,1997.6,2003.2],[2003.0,2004.8,2002.3,2003.7],[2003.6,2011.5,1991.3,2006.9],[2007.1,2008.3,2003.6,2004.8],[2004.8,2008.2,2003.8,2007.4],
[2007.5,2008.2,2004.0,2004.2],[2004.2,2004.8,1968.8,1979.9],[1980.2,1980.4,1968.6,1979.8],[1980.2,1996.6,1978.9,1995.8],[1996.8,1998.0,1993.7,1995.6],
[1995.8,1996.4,1993.4,1994.0],[1995.0,1996.8,1992.5,1993.1],[1992.9,1996.0,1990.5,1995.2],[1995.0,2011.5,1994.8,2006.7],[2006.7,2012.1,2003.7,2004.0],
[2005.6,2007.5,2003.7,2004.4],[2004.8,2006.3,2001.6,2003.7],[2005.0,2005.2,2000.0,2000.4],[2000.8,2001.2,1987.7,1988.1],[1988.1,1991.7,1980.5,1981.0],
[1981.0,1981.8,1973.0,1977.4],[1977.43,1983.65,1977.37,1982.72]
];

// ---- layout / style constants (not data) ----
const W = 3840, H = 1996;
const gridLeft = 4, gridTop = 5, gridRightX = 3745, gridBottomY = 1960;
const totalSlots = 936;           // bars + empty chart-shift area on the right
const labelStep = 32, gridStep = 16;
const nameAnchorBar = 806;
const yMin = 1606.6, yMax = 2071.0;
const levelColors = ['#1E90FF','#556B2F','#FF4500','#FF8C00','#1E90FF','#FF00FF','#C71585'];
const levelDash = ['solid',[12,8],'solid',[26,6,4,6],'solid',[16,10],'solid'];
const levelWidth = [1.2,1.5,1.5,1.5,3,1.5,1.5];
const axisFont = 'Liberation Sans';

const cats = [];
for (let i = 0; i < totalSlots; i++) cats.push(String(i));
const candleData = ohlc.map(r => [r[0], r[3], r[2], r[1]]);
const last = ohlc[ohlc.length - 1];

const markData = [{
  yAxis: bidPrice,
  lineStyle: {color: '#C0C0C0', width: 1.2, type: 'solid'},
  label: {formatter: bidPrice.toFixed(2), backgroundColor: '#000'}
}];
levelValues.forEach((v, i) => markData.push({
  yAxis: v,
  lineStyle: {color: levelColors[i], width: levelWidth[i], type: levelDash[i]},
  label: {formatter: v.toFixed(2), backgroundColor: levelColors[i]}
}));

const nameData = levelValues.map((v, i) => ({
  value: [nameAnchorBar, v],
  label: {formatter: levelNames[i], color: levelColors[i]}
}));

const isLabelSlot = (i) => i % labelStep === 0 && i / labelStep < xTickLabels.length;

const chart = echarts.init(document.getElementById('c'), null, {width: W, height: H, renderer: 'canvas'});
chart.setOption({
  animation: false,
  backgroundColor: '#fff',
  title: {
    left: 8, top: 7,
    text: '{t|▼}' + symbolName + '  ' + last.map(x => x.toFixed(2)).join(' '),
    textStyle: {fontFamily: axisFont, fontSize: 18, fontWeight: 'normal', color: '#000',
      rich: {t: {fontFamily: 'DejaVu Sans', fontSize: 11, color: '#000', padding: [0, 13, 0, 1]}}}
  },
  graphic: [{
    type: 'rect', silent: true, z: -1,
    shape: {x: 1, y: 1, width: W - 2, height: H - 2},
    style: {fill: 'none', stroke: '#A8A8A8', lineWidth: 2}
  }],
  grid: {left: gridLeft, top: gridTop, right: W - gridRightX, bottom: H - gridBottomY,
    show: true, borderColor: '#000', borderWidth: 1.5, containLabel: false},
  xAxis: {
    type: 'category', data: cats, boundaryGap: false,
    axisLine: {show: false},
    axisTick: {show: true, interval: isLabelSlot, length: 5, inside: false, lineStyle: {color: '#000', width: 1.5}},
    axisLabel: {
      interval: isLabelSlot,
      formatter: (v, i) => xTickLabels[i / labelStep] || '',
      align: 'left', margin: 7, fontFamily: axisFont, fontSize: 18, color: '#000'
    },
    splitLine: {show: true, interval: (i) => i % gridStep === 0,
      lineStyle: {color: '#C4C4C4', width: 1, type: [3, 3]}}
  },
  yAxis: {
    type: 'value', position: 'right', min: yMin, max: yMax,
    axisLine: {show: true, onZero: false, lineStyle: {color: '#000', width: 1.5}},
    axisTick: {show: false, customValues: yTicks},
    axisLabel: {customValues: yTicks, formatter: (v) => v.toFixed(2), margin: 11,
      fontFamily: axisFont, fontSize: 18, color: '#000'},
    splitLine: {show: true, lineStyle: {color: '#C4C4C4', width: 1, type: [3, 3]}}
  },
  series: [{
    type: 'candlestick', data: candleData, barWidth: 3, large: false,
    itemStyle: {color: '#fff', color0: '#000', borderColor: '#000', borderColor0: '#000', borderWidth: 1},
    markLine: {
      silent: true, symbol: ['none', 'none'], animation: false,
      label: {show: true, position: 'end', distance: 4, color: '#fff', padding: [3, 8, 2, 8],
        fontFamily: axisFont, fontSize: 18},
      data: markData
    },
    markPoint: {
      silent: true, animation: false,
      data: [{coord: [String(ohlc.length - 1), yMax], symbol: 'triangle', symbolRotate: 180,
        symbolSize: [16, 11], symbolOffset: [0, 8], itemStyle: {color: '#A0A0A0'}, label: {show: false}}]
    }
  }, {
    type: 'scatter', data: nameData, symbolSize: 0, z: 6, silent: true,
    label: {show: true, position: 'bottom', distance: 3, fontFamily: 'Liberation Sans', fontSize: 21}
  }]
});
</script>
</body></html>
